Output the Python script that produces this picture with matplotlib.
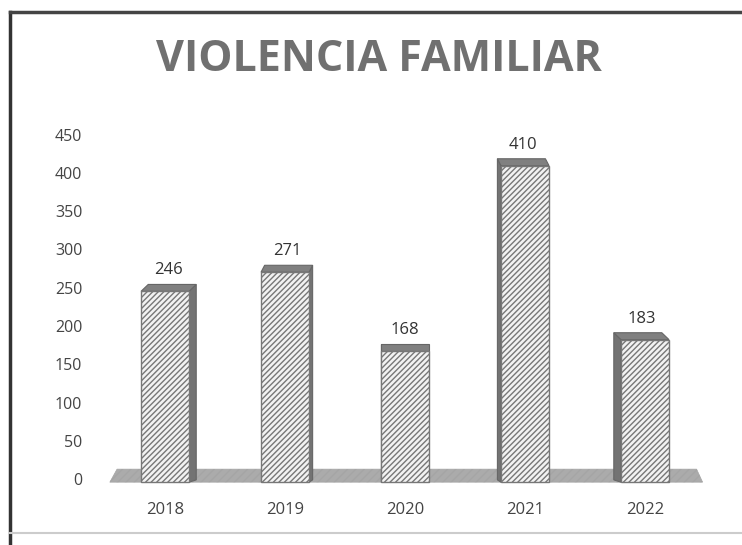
import matplotlib
matplotlib.use("Agg")
import matplotlib.pyplot as plt
from matplotlib.patches import Polygon, Rectangle
from matplotlib.lines import Line2D

# data
years = ['2018', '2019', '2020', '2021', '2022']
casos = [246, 271, 168, 410, 183]
y_ticks = [0, 50, 100, 150, 200, 250, 300, 350, 400, 450]

plt.rcParams['font.family'] = ['Open Sans', 'DejaVu Sans']
plt.rcParams['hatch.color'] = '#8a8a8a'
plt.rcParams['hatch.linewidth'] = 1.0

fig = plt.figure(figsize=(7.42, 5.45), dpi=100)
fig.patch.set_facecolor('white')

# axes placed so that 0 sits at y=480px and 450 at y=135px
ax = fig.add_axes([85 / 742, (545 - 486) / 545, 620 / 742, 351 / 545])
ax.set_xlim(-0.667, 4.5)
ax.set_ylim(-8, 450)
ax.axis('off')

# floor plate
floor = Polygon([(-0.46, -3), (4.48, -3), (4.43, 14), (-0.40, 14)],
                closed=True, facecolor='#ababab', edgecolor='#a5a5a5',
                hatch='////', lw=0.5, clip_on=False, zorder=1)
ax.add_patch(floor)

w = 0.4
for i, (yr, v) in enumerate(zip(years, casos)):
    x0 = i - w / 2
    dx = 0.03 * (2 - i)   # side face depth, changes with perspective
    dy = 9
    # side face
    if dx > 0:
        side = [(x0 + w, -3), (x0 + w + dx, 0), (x0 + w + dx, v + dy), (x0 + w, v)]
    else:
        side = [(x0, -3), (x0 + dx, 0), (x0 + dx, v + dy), (x0, v)]
    ax.add_patch(Polygon(side, closed=True, facecolor='#737373',
                         edgecolor='#666666', lw=0.8, zorder=2, clip_on=False))
    # top face
    top = [(x0, v), (x0 + w, v), (x0 + w + dx, v + dy), (x0 + dx, v + dy)]
    ax.add_patch(Polygon(top, closed=True, facecolor='#808080',
                         edgecolor='#666666', lw=0.8, zorder=2, clip_on=False))
    # front face
    ax.add_patch(Rectangle((x0, -3), w, v + 3, facecolor='#f2f2f2',
                           edgecolor='#777777', hatch='//////', lw=1.0,
                           zorder=3, clip_on=False))
    ax.text(i + dx / 2, v + dy + 8, str(v), ha='center', va='bottom',
            fontsize=12, color='#333333')
    ax.text(i, -39, yr, ha='center', va='center', fontsize=12, color='#444444')

for t in y_ticks:
    ax.text(-0.69, t - 2, str(t), ha='right', va='center', fontsize=11.5, color='#444444')

fig.text(379 / 742, 1 - 59 / 545, 'VIOLENCIA FAMILIAR', ha='center', va='center',
         fontsize=31, fontweight='bold', color='#707070')

# scanned frame lines
fig.add_artist(Line2D([10 / 742, 10 / 742], [0, 1 - 12 / 545], color='#333333', lw=2.5))
fig.add_artist(Line2D([10 / 742, 1], [1 - 12 / 545, 1 - 12 / 545], color='#444444', lw=2.5))
fig.add_artist(Line2D([10 / 742, 1], [1 - 533 / 545, 1 - 533 / 545], color='#cccccc', lw=1.5))

fig.savefig('out.png', dpi=100)
